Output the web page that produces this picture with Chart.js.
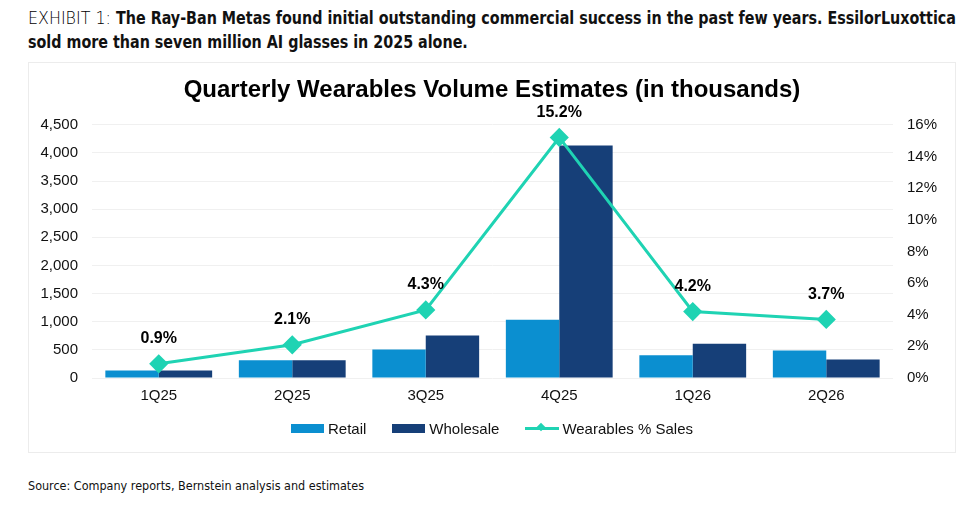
<!DOCTYPE html>
<html>
<head>
<meta charset="utf-8">
<script src="https://cdn.jsdelivr.net/npm/chart.js@4.4.1/dist/chart.umd.min.js"></script>
<style>
  html, body { margin: 0; padding: 0; background: #fff; }
  body { width: 971px; height: 509px; position: relative; overflow: hidden; }
  .hline { position: absolute; left: 28px; font-family: 'DejaVu Sans', sans-serif; font-stretch: condensed; font-size: 18px; line-height: 24px; color: #111; white-space: nowrap; transform-origin: 0 0; }
  .hline .lbl { font-weight: 300; color: #000; }
  .hline b { font-weight: 700; }
  #box { position: absolute; left: 28px; top: 62px; width: 928px; height: 391px; border: 1px solid #ececec; box-sizing: border-box; }
  #wrap { position: absolute; left: 28px; top: 62px; width: 928px; height: 391px; }
  #source { position: absolute; left: 28px; top: 478px; font-family: 'DejaVu Sans', sans-serif; font-stretch: condensed; font-size: 13px; color: #111; white-space: nowrap; transform-origin: 0 0; }
  #legend { position: absolute; left: 28px; top: 419px; width: 928px; height: 18px; display: flex; justify-content: center; align-items: center; font-family: 'Liberation Sans', Arial, sans-serif; font-size: 15px; color: #111; }
  #legend .item { display: flex; align-items: center; margin: 0 13px; }
  #legend .sw { width: 33px; height: 9px; margin-right: 4px; position: relative; }
  #legend .ln { width: 34px; height: 3px; margin-right: 3px; position: relative; }
  #legend .ln i { position: absolute; left: 13px; top: -2.5px; width: 6px; height: 6px; transform: rotate(45deg); }
</style>
</head>
<body>
<div class="hline" id="h1" style="top:6px"><span class="lbl">EXHIBIT 1: </span><b>The Ray-Ban Metas found initial outstanding commercial success in the past few years. EssilorLuxottica</b></div>
<div class="hline" id="h2" style="top:30px"><b>sold more than seven million AI glasses in 2025 alone.</b></div>
<div id="box"></div>
<div id="wrap"><canvas id="c"></canvas></div>
<div id="legend"></div>
<div id="source">Source: Company reports, Bernstein analysis and estimates</div>
<script>
const categories = ['1Q25', '2Q25', '3Q25', '4Q25', '1Q26', '2Q26'];
const retail = [135, 315, 505, 1035, 405, 488];
const wholesale = [135, 315, 755, 4130, 607, 327];
const wearablesPct = [0.9, 2.1, 4.3, 15.2, 4.2, 3.7];
const pctLabels = ['0.9%', '2.1%', '4.3%', '15.2%', '4.2%', '3.7%'];
const seriesNames = ['Retail', 'Wholesale', 'Wearables % Sales'];

const RETAIL = '#0B8FD0';
const WHOLESALE = '#163F78';
const LINE = '#1FD3B3';

// fit header/source text widths
(function () {
  const h1 = document.getElementById('h1'), h2 = document.getElementById('h2'), src = document.getElementById('source');
  const s = 928 / h1.getBoundingClientRect().width;
  h1.style.transform = 'scaleX(' + s + ')';
  h2.style.transform = 'scaleX(' + s + ')';
  const s2 = 336 / src.getBoundingClientRect().width;
  src.style.transform = 'scaleX(' + s2 + ')';
})();

// HTML legend
(function () {
  const lg = document.getElementById('legend');
  const cols = [RETAIL, WHOLESALE, LINE];
  seriesNames.forEach((n, i) => {
    const it = document.createElement('div'); it.className = 'item';
    const sw = document.createElement('div');
    if (i < 2) { sw.className = 'sw'; sw.style.background = cols[i]; }
    else { sw.className = 'ln'; sw.style.background = cols[i]; const d = document.createElement('i'); d.style.background = cols[i]; sw.appendChild(d); }
    const t = document.createElement('span'); t.textContent = n;
    it.appendChild(sw); it.appendChild(t); lg.appendChild(it);
  });
})();

const labelPlugin = {
  id: 'pctLabels',
  afterDatasetsDraw(chart) {
    const meta = chart.getDatasetMeta(2);
    const ctx = chart.ctx;
    ctx.save();
    ctx.font = 'bold 16px "Liberation Sans", Arial, sans-serif';
    ctx.fillStyle = '#000';
    ctx.textAlign = 'center';
    ctx.textBaseline = 'middle';
    meta.data.forEach((pt, i) => {
      ctx.fillText(pctLabels[i], pt.x, pt.y - 25);
    });
    ctx.restore();
  }
};

new Chart(document.getElementById('c'), {
  data: {
    labels: categories,
    datasets: [
      { type: 'bar', label: seriesNames[0], data: retail, backgroundColor: RETAIL, yAxisID: 'y', categoryPercentage: 0.8, barPercentage: 1.0, order: 2 },
      { type: 'bar', label: seriesNames[1], data: wholesale, backgroundColor: WHOLESALE, yAxisID: 'y', categoryPercentage: 0.8, barPercentage: 1.0, order: 2 },
      { type: 'line', label: seriesNames[2], data: wearablesPct, borderColor: LINE, backgroundColor: LINE, borderWidth: 3, pointStyle: 'rectRot', pointRadius: 7.5, pointBackgroundColor: LINE, pointBorderColor: LINE, yAxisID: 'y2', tension: 0, order: 1 }
    ]
  },
  options: {
    responsive: true,
    maintainAspectRatio: false,
    animation: false,
    layout: { padding: { left: 0, right: 0, top: 0, bottom: 47 } },
    plugins: {
      title: { display: true, text: 'Quarterly Wearables Volume Estimates (in thousands)', color: '#000', font: { family: '"Liberation Sans", Arial, sans-serif', size: 24, weight: 'bold' }, padding: { top: 14, bottom: 20 } },
      legend: { display: false },
      tooltip: { enabled: false }
    },
    scales: {
      x: {
        grid: { display: false },
        border: { display: false },
        ticks: { color: '#111', font: { family: '"Liberation Sans", Arial, sans-serif', size: 15 }, padding: 1 }
      },
      y: {
        position: 'left',
        min: 0, max: 4500,
        grid: { color: '#f0f0f0', drawTicks: false },
        border: { display: false },
        ticks: { stepSize: 500, color: '#111', padding: 14, font: { family: '"Liberation Sans", Arial, sans-serif', size: 15 }, callback: v => v.toLocaleString('en-US') },
        afterFit(s) { s.width = 64; }
      },
      y2: {
        position: 'right',
        min: 0, max: 16,
        grid: { display: false },
        border: { display: false },
        ticks: { stepSize: 2, color: '#111', padding: 6, font: { family: '"Liberation Sans", Arial, sans-serif', size: 15 }, callback: v => v + '%' },
        afterFit(s) { s.width = 63; }
      }
    }
  },
  plugins: [labelPlugin]
});
</script>
</body>
</html>
